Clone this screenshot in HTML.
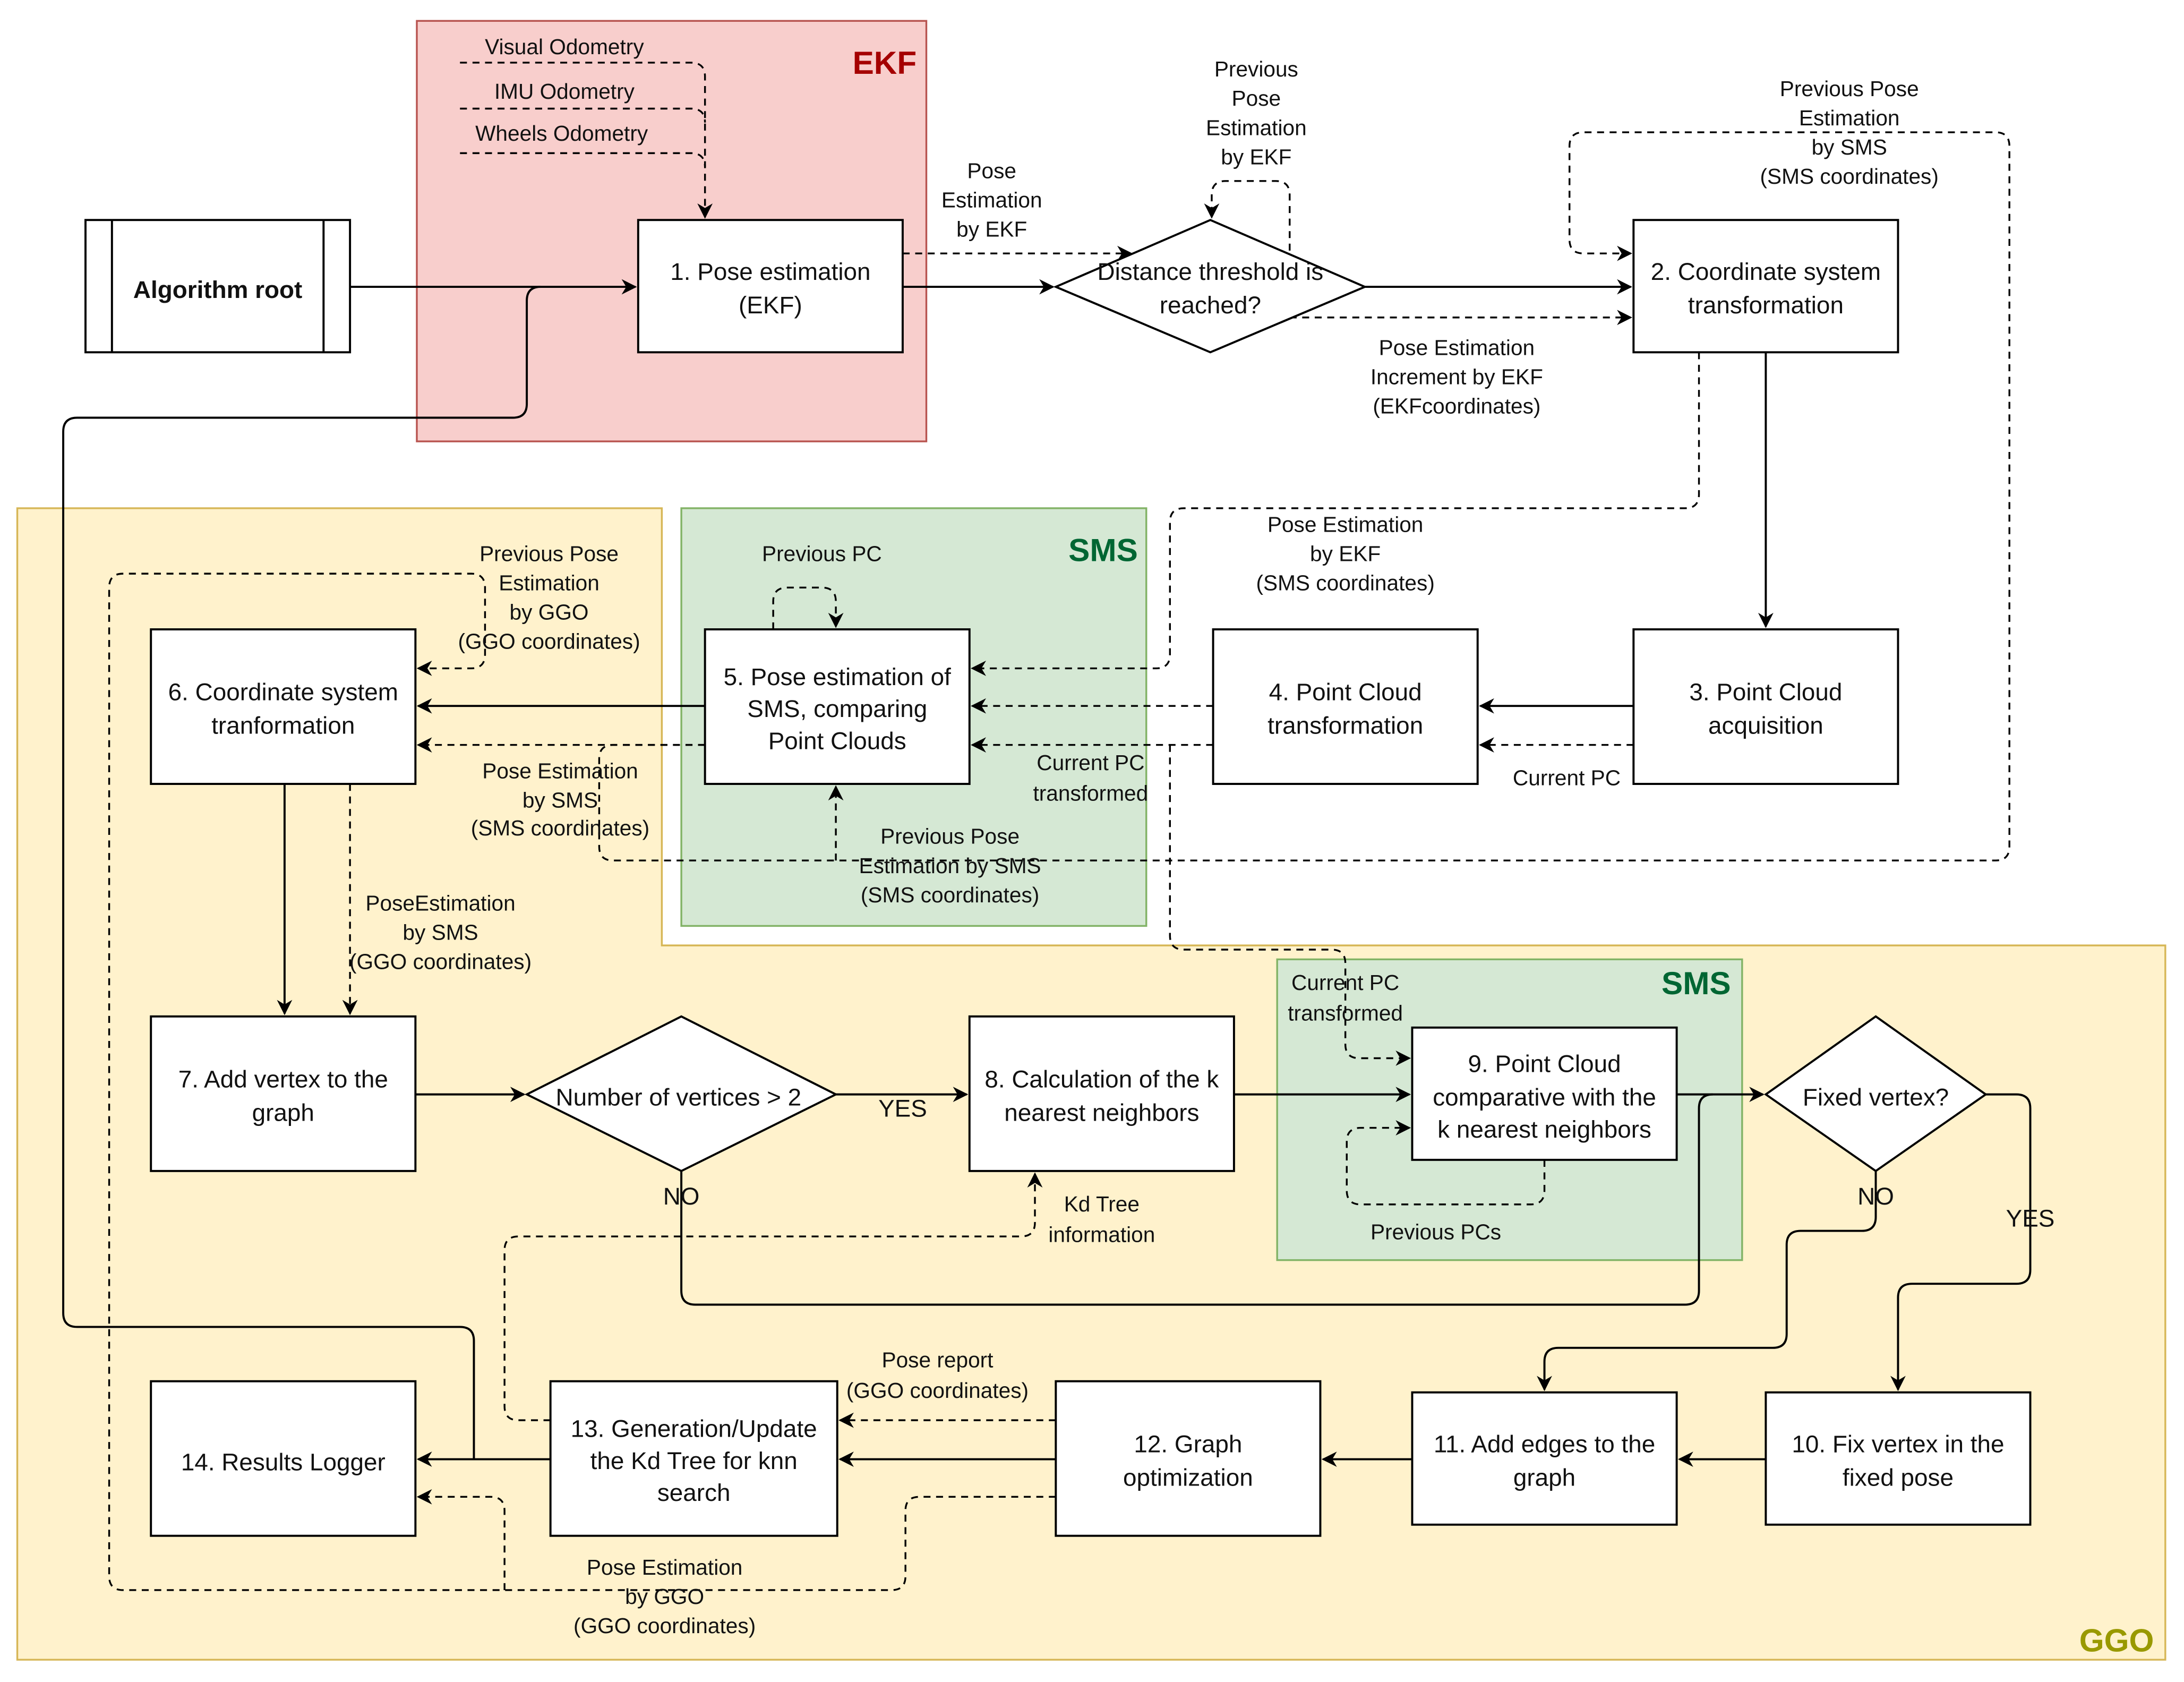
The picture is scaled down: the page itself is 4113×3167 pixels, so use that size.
<!DOCTYPE html>
<html><head><meta charset="utf-8"><style>
html,body{margin:0;padding:0;background:#fff}
svg{display:block}
text{font-family:"Liberation Sans",sans-serif;fill:#111}
.n{font-size:17.5px}
.l{font-size:15.5px}
</style></head><body>
<svg width="4113" height="3167" viewBox="0 0 1568 1208" xmlns="http://www.w3.org/2000/svg">
<defs>
<marker id="a" viewBox="0 0 10 10" refX="9" refY="5" markerWidth="11" markerHeight="11" markerUnits="userSpaceOnUse" orient="auto"><path d="M0,0 L10,5 L0,10 L3,5 Z" fill="#000"/></marker>
</defs>
<rect width="1568" height="1208" fill="#fff"/>
<!-- regions -->
<rect x="299" y="15" width="366" height="302" fill="#f8cecc" stroke="#b85450" stroke-width="1.3"/>
<text x="635" y="53" style="font-size:23px;font-weight:bold;fill:#a50000" text-anchor="middle">EKF</text>
<path d="M12,365 H475 V679 H1555 V1192 H12 Z" fill="#fff2cc" stroke="#d6b656" stroke-width="1.3"/>
<text x="1520" y="1186" style="font-size:23px;font-weight:bold;fill:#999900" text-anchor="middle">GGO</text>
<rect x="489" y="365" width="334" height="300" fill="#d5e8d4" stroke="#82b366" stroke-width="1.3"/>
<text x="792" y="403" style="font-size:23px;font-weight:bold;fill:#006633" text-anchor="middle">SMS</text>
<rect x="917" y="689" width="334" height="216" fill="#d5e8d4" stroke="#82b366" stroke-width="1.3"/>
<text x="1218" y="714" style="font-size:23px;font-weight:bold;fill:#006633" text-anchor="middle">SMS</text>

<g fill="none" stroke="#000" stroke-width="1.5">
<!-- solid edges -->
<path d="M251,206 H456" marker-end="url(#a)"/>
<path d="M340,1048 V963 Q340,953 330,953 H55 Q45,953 45,943 V310 Q45,300 55,300 H368 Q378,300 378,290 V216 Q378,206 388,206"/>
<path d="M648,206 H756" marker-end="url(#a)"/>
<path d="M980,206 H1171" marker-end="url(#a)"/>
<path d="M1268,253 V450" marker-end="url(#a)"/>
<path d="M1173,507 H1063" marker-end="url(#a)"/>
<path d="M506,507 H300" marker-end="url(#a)"/>
<path d="M204,563 V728" marker-end="url(#a)"/>
<path d="M298,786 H376" marker-end="url(#a)"/>
<path d="M600,786 H694" marker-end="url(#a)"/>
<path d="M886,786 H1012" marker-end="url(#a)"/>
<path d="M1204,786 H1266" marker-end="url(#a)"/>
<path d="M489,841 V927 Q489,937 499,937 H1210 Q1220,937 1220,927 V796 Q1220,786 1230,786"/>
<path d="M1426,786 H1448 Q1458,786 1458,796 V912 Q1458,922 1448,922 H1373 Q1363,922 1363,932 V998" marker-end="url(#a)"/>
<path d="M1347,841 V874 Q1347,884 1337,884 H1293 Q1283,884 1283,894 V958 Q1283,968 1273,968 H1119 Q1109,968 1109,978 V998" marker-end="url(#a)"/>
<path d="M1268,1048 H1206" marker-end="url(#a)"/>
<path d="M1014,1048 H950" marker-end="url(#a)"/>
<path d="M758,1048 H603" marker-end="url(#a)"/>
<path d="M395,1048 H300" marker-end="url(#a)"/>
</g>
<g fill="none" stroke="#000" stroke-width="1.3" stroke-dasharray="5,4">
<path d="M330,45 H496 Q506,45 506,55 V156" marker-end="url(#a)"/>
<path d="M330,78 H496 Q506,78 506,88"/>
<path d="M330,110 H496 Q506,110 506,120"/>
<path d="M648,182 H812" marker-end="url(#a)"/>
<path d="M926,180 V140 Q926,130 916,130 H880 Q870,130 870,140 V156" marker-end="url(#a)"/>
<path d="M926,228 H1171" marker-end="url(#a)"/>
<path d="M506,535 H440 Q430,535 430,545 V608 Q430,618 440,618 H1433 Q1443,618 1443,608 V105 Q1443,95 1433,95 H1137 Q1127,95 1127,105 V172 Q1127,182 1137,182 H1171" marker-end="url(#a)"/>
<path d="M600,618 V565" marker-end="url(#a)"/>
<path d="M1220,253 V355 Q1220,365 1210,365 H850 Q840,365 840,375 V470 Q840,480 830,480 H698" marker-end="url(#a)"/>
<path d="M1173,535 H1063" marker-end="url(#a)"/>
<path d="M871,507 H698" marker-end="url(#a)"/>
<path d="M871,535 H698" marker-end="url(#a)"/>
<path d="M506,535 H300" marker-end="url(#a)"/>
<path d="M840,535 V672 Q840,682 850,682 H956 Q966,682 966,692 V750 Q966,760 976,760 H1012" marker-end="url(#a)"/>
<path d="M555,452 V432 Q555,422 565,422 H590 Q600,422 600,432 V450" marker-end="url(#a)"/>
<path d="M1109,833 V855 Q1109,865 1099,865 H977 Q967,865 967,855 V820 Q967,810 977,810 H1012" marker-end="url(#a)"/>
<path d="M758,1075 H660 Q650,1075 650,1085 V1132 Q650,1142 640,1142 H88 Q78,1142 78,1132 V422 Q78,412 88,412 H338 Q348,412 348,422 V470 Q348,480 338,480 H300" marker-end="url(#a)"/>
<path d="M362,1142 V1085 Q362,1075 352,1075 H300" marker-end="url(#a)"/>
<path d="M251,563 V728" marker-end="url(#a)"/>
<path d="M395,1020 H372 Q362,1020 362,1010 V898 Q362,888 372,888 H733 Q743,888 743,878 V843" marker-end="url(#a)"/>
<path d="M758,1020 H603" marker-end="url(#a)"/>
</g>

<!-- nodes -->
<g fill="#fff" stroke="#000" stroke-width="1.5">
<rect x="61" y="158" width="190" height="95"/>
<path d="M80,158 V253 M232,158 V253" fill="none"/>
<rect x="458" y="158" width="190" height="95"/>
<path d="M758,206 L869,158 L980,206 L869,253 Z"/>
<rect x="1173" y="158" width="190" height="95"/>
<rect x="1173" y="452" width="190" height="111"/>
<rect x="871" y="452" width="190" height="111"/>
<rect x="506" y="452" width="190" height="111"/>
<rect x="108" y="452" width="190" height="111"/>
<rect x="108" y="730" width="190" height="111"/>
<path d="M378,786 L489,730 L600,786 L489,841 Z"/>
<rect x="696" y="730" width="190" height="111"/>
<rect x="1014" y="738" width="190" height="95"/>
<path d="M1268,786 L1347,730 L1426,786 L1347,841 Z"/>
<rect x="1268" y="1000" width="190" height="95"/>
<rect x="1014" y="1000" width="190" height="95"/>
<rect x="758" y="992" width="190" height="111"/>
<rect x="395" y="992" width="206" height="111"/>
<rect x="108" y="992" width="190" height="111"/>
</g>

<g class="n" text-anchor="middle">
<text x="156" y="214" style="font-weight:bold">Algorithm root</text>
<text x="553" y="201">1. Pose estimation</text><text x="553" y="225">(EKF)</text>
<text x="869" y="201">Distance threshold is</text><text x="869" y="225">reached?</text>
<text x="1268" y="201">2. Coordinate system</text><text x="1268" y="225">transformation</text>
<text x="1268" y="503">3. Point Cloud</text><text x="1268" y="527">acquisition</text>
<text x="966" y="503">4. Point Cloud</text><text x="966" y="527">transformation</text>
<text x="601" y="492">5. Pose estimation of</text><text x="601" y="515">SMS, comparing</text><text x="601" y="538">Point Clouds</text>
<text x="203" y="503">6. Coordinate system</text><text x="203" y="527">tranformation</text>
<text x="203" y="781">7. Add vertex to the</text><text x="203" y="805">graph</text>
<text x="487" y="794">Number of vertices &gt; 2</text>
<text x="791" y="781">8. Calculation of the k</text><text x="791" y="805">nearest neighbors</text>
<text x="1109" y="770">9. Point Cloud</text><text x="1109" y="794">comparative with the</text><text x="1109" y="817">k nearest neighbors</text>
<text x="1347" y="794">Fixed vertex?</text>
<text x="1363" y="1043">10. Fix vertex in the</text><text x="1363" y="1067">fixed pose</text>
<text x="1109" y="1043">11. Add edges to the</text><text x="1109" y="1067">graph</text>
<text x="853" y="1043">12. Graph</text><text x="853" y="1067">optimization</text>
<text x="498" y="1032">13. Generation/Update</text><text x="498" y="1055">the Kd Tree for knn</text><text x="498" y="1078">search</text>
<text x="203" y="1056">14. Results Logger</text>
</g>

<g class="l" text-anchor="middle">
<text x="405" y="39">Visual Odometry</text>
<text x="405" y="71">IMU Odometry</text>
<text x="403" y="101">Wheels Odometry</text>
<text x="712" y="128">Pose</text><text x="712" y="149">Estimation</text><text x="712" y="170">by EKF</text>
<text x="902" y="55">Previous</text><text x="902" y="76">Pose</text><text x="902" y="97">Estimation</text><text x="902" y="118">by EKF</text>
<text x="1328" y="69">Previous Pose</text><text x="1328" y="90">Estimation</text><text x="1328" y="111">by SMS</text><text x="1328" y="132">(SMS coordinates)</text>
<text x="1046" y="255">Pose Estimation</text><text x="1046" y="276">Increment by EKF</text><text x="1046" y="297">(EKFcoordinates)</text>
<text x="966" y="382">Pose Estimation</text><text x="966" y="403">by EKF</text><text x="966" y="424">(SMS coordinates)</text>
<text x="590" y="403">Previous PC</text>
<text x="394" y="403">Previous Pose</text><text x="394" y="424">Estimation</text><text x="394" y="445">by GGO</text><text x="394" y="466">(GGO coordinates)</text>
<text x="402" y="559">Pose Estimation</text><text x="402" y="580">by SMS</text><text x="402" y="600">(SMS coordinates)</text>
<text x="783" y="553">Current PC</text><text x="783" y="575">transformed</text>
<text x="1125" y="564">Current PC</text>
<text x="682" y="606">Previous Pose</text><text x="682" y="627">Estimation by SMS</text><text x="682" y="648">(SMS coordinates)</text>
<text x="316" y="654">PoseEstimation</text><text x="316" y="675">by SMS</text><text x="316" y="696">(GGO coordinates)</text>
<text x="966" y="711">Current PC</text><text x="966" y="733">transformed</text>
<text x="648" y="802" class="n">YES</text>
<text x="489" y="865" class="n">NO</text>
<text x="1347" y="865" class="n">NO</text>
<text x="1458" y="881" class="n">YES</text>
<text x="791" y="870">Kd Tree</text><text x="791" y="892">information</text>
<text x="1031" y="890">Previous PCs</text>
<text x="673" y="982">Pose report</text><text x="673" y="1004">(GGO coordinates)</text>
<text x="477" y="1131">Pose Estimation</text><text x="477" y="1152">by GGO</text><text x="477" y="1173">(GGO coordinates)</text>
</g>
</svg>
</body></html>
